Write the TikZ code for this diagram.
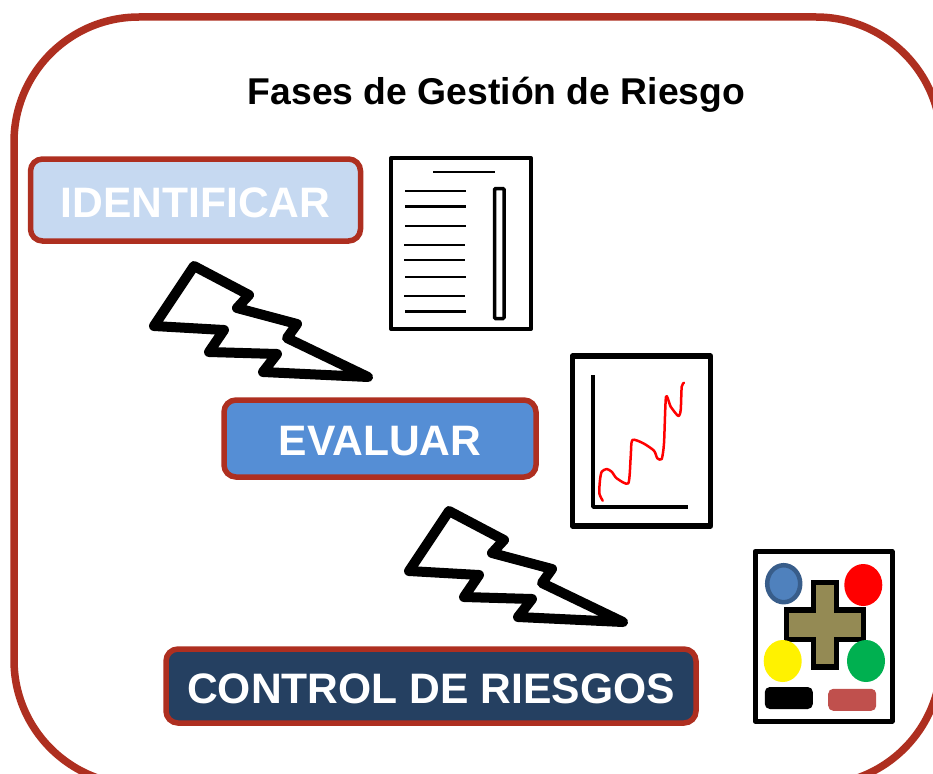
\documentclass[tikz,border=0pt]{standalone}
\usepackage{fontspec}
\setmainfont{Liberation Sans}
\usetikzlibrary{calc, positioning, shapes.geometric}
\definecolor{borderred}{HTML}{AE2F20}
\definecolor{lightblue}{HTML}{C6D9F1}
\definecolor{midblue}{HTML}{558ED5}
\definecolor{darkblue}{HTML}{254061}
\definecolor{crossolive}{HTML}{948A54}
\definecolor{dotblue}{HTML}{4F81BD}
\definecolor{dotblueline}{HTML}{385D8A}
\definecolor{dotgreen}{HTML}{00B050}
\definecolor{barred}{HTML}{C0504D}

\begin{document}
\begin{tikzpicture}[
    x=1pt, y=-1pt,
    phase/.style={draw=borderred, line width=5.5pt, rounded corners=12pt, inner sep=0pt, text=white, text height=34.5pt, text depth=0pt, font=\bfseries\fontsize{42.6}{46}\selectfont},
    title/.style={font=\bfseries\fontsize{37.3}{40}\selectfont, inner sep=0pt},
    sheet/.style={draw=black, fill=white, line join=round, inner sep=0pt},
    rule/.style={draw=black, line width=2.2pt},
    bolt/.style={draw=black, line width=10pt, line join=round},
    dot/.style={ellipse, inner sep=0pt, minimum width=38pt, minimum height=42pt},
    tag/.style={rounded corners=5pt, inner sep=0pt, minimum width=48pt, minimum height=22pt}
]
\useasboundingbox (0,0) rectangle (933,773);
\draw[borderred, line width=7.5pt, rounded corners=125pt] (14,17) rectangle (941,785);

\node[title] (heading) at (496.5,95) {Fases de Gestión de Riesgo};

\node[phase, fill=lightblue, minimum width=330pt, minimum height=82pt] (identificar) at (195.5,200) {IDENTIFICAR};
\node[phase, fill=midblue, minimum width=312pt, minimum height=77pt] (evaluar) at (380,438.5) {EVALUAR};
\node[phase, fill=darkblue, minimum width=530pt, minimum height=74pt] (control) at (431,686) {CONTROL DE RIESGOS};

% lightning bolts
\foreach \dx/\dy in {0/0, 255/245} {
  \draw[bolt, shift={(\dx,\dy)}] (194,266) -- (249,295) -- (237,308) -- (297,324) -- (287,338)
    -- (368,377) -- (263,372) -- (277,354) -- (209,352) -- (224,330) -- (154,326) -- cycle;
}

% document sheet
\node[sheet, line width=4pt, minimum width=140pt, minimum height=171pt] (sheetone) at (461,243.5) {};
\draw[rule] (433,172) -- (495,172);
\foreach \xa/\ya in {405/191, 405/206.5, 405/226, 404/245, 404/260, 405/277, 404/296, 405/311.5} {
  \draw[rule] (\xa,\ya) -- ++(61,0);
}
\draw[line width=3.5pt, rounded corners=1pt] (494.5,188.5) rectangle (504,318.5);

% chart sheet
\node[sheet, line width=5.5pt, minimum width=138pt, minimum height=170pt] (sheettwo) at (641.5,441) {};
\draw[line width=3.5pt, line join=round] (593,375) -- (593,507) -- (688,507);
\draw[red, line width=2.5pt, line join=round, line cap=round] plot[smooth, tension=0.4] coordinates {
  (602.7,500.7) (599.3,493.3) (600,480) (601.7,471.7) (606.7,469) (611.7,471.7) (616.7,478.3)
  (628.3,483.3) (630.7,456.7) (632.3,440) (643.3,443.3) (654,450.7) (657.3,458.3) (661.7,459)
  (664,443.3) (666,396.7) (670.7,406.7) (678.3,416) (680.7,410) (681.7,386.7) (684,382.7)};

% control sheet
\node[sheet, line width=5pt, minimum width=137pt, minimum height=169.5pt] (sheetthree) at (823.5,636.3) {};
\draw[line width=5.5pt, fill=crossolive, line join=miter] (813.7,582.5) -- (836.3,582.5) -- (836.3,610) -- (863.3,610)
  -- (863.3,639.3) -- (836.3,639.3) -- (836.3,667) -- (813.7,667) -- (813.7,639.3) -- (786.3,639.3)
  -- (786.3,610) -- (813.7,610) -- cycle;
\node[dot, draw=dotblueline, fill=dotblue, line width=4.5pt, minimum width=33pt, minimum height=37pt] (dotone) at (783.7,583.7) {};
\node[dot, fill=red] (dottwo) at (863.3,585) {};
\node[dot, fill=yellow] (dotthree) at (782.7,661) {};
\node[dot, fill=dotgreen] (dotfour) at (866,661) {};
\node[tag, fill=black] (tagone) at (788.8,698) {};
\node[tag, fill=barred] (tagtwo) at (852.2,699.8) {};
\end{tikzpicture}
\end{document}
